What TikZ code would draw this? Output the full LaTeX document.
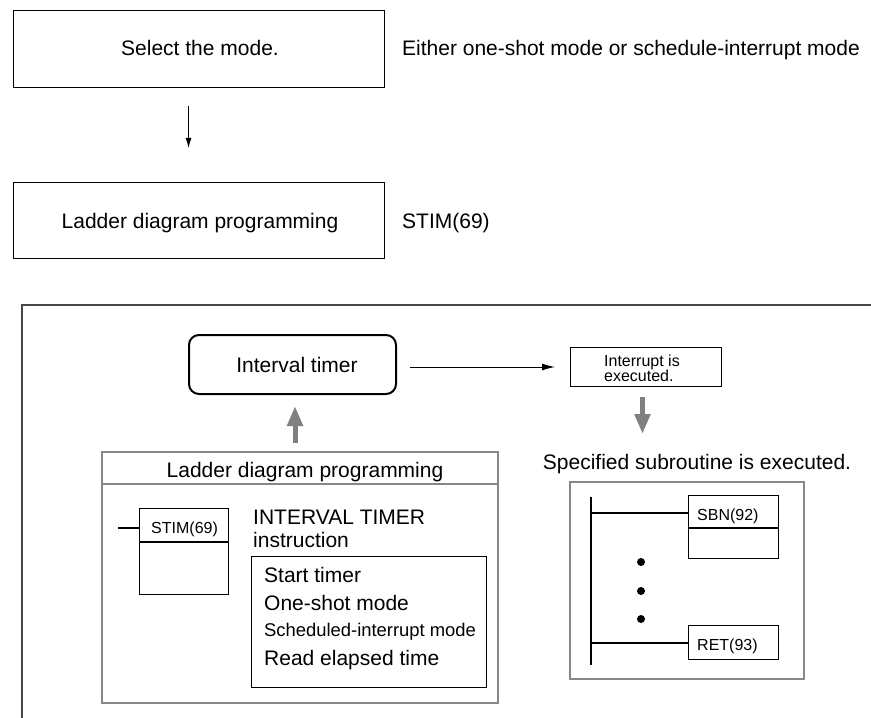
\documentclass[tikz,border=0pt]{standalone}
\usepackage{fontspec}
\setmainfont{Liberation Sans}
\usetikzlibrary{arrows.meta}
\definecolor{framegray}{RGB}{70,70,70}
\definecolor{boxgray}{RGB}{135,135,135}
\definecolor{arrowgray}{RGB}{128,128,128}
\tikzset{
  big/.style={font=\fontsize{21bp}{23bp}\selectfont, inner sep=0pt},
  mid/.style={font=\fontsize{18.4bp}{20bp}\selectfont, inner sep=0pt},
  small/.style={font=\fontsize{16bp}{15bp}\selectfont, inner sep=0pt},
  plainbox/.style={draw, line width=1.1bp, anchor=north west, inner sep=0pt},
  graybox/.style={draw=boxgray, line width=2bp, anchor=north west, inner sep=0pt},
  thinarrow/.style={line width=1bp, -{Latex[length=10bp,width=6bp]}},
  grayarrow/.style={draw=arrowgray, line width=5bp, -{Triangle[length=20bp,width=15bp]}, color=arrowgray},
  rung/.style={line width=1.1bp},
}
\begin{document}
\begin{tikzpicture}[x=1bp, y=-1bp]
\useasboundingbox (0,0) rectangle (871,718);

% top flow
\node[plainbox, minimum width=371bp, minimum height=77bp] (box1) at (13,10) {};
\node[big, anchor=base] (t1) at (200,56) {Select the mode.};
\node[big, anchor=base west] (t1r) at (402,56) {Either one-shot mode or schedule-interrupt mode};
\node[plainbox, minimum width=371bp, minimum height=76bp] (box2) at (13,182) {};
\node[big, anchor=base] (t2) at (200,228) {Ladder diagram programming};
\node[big, anchor=base west] (t2r) at (402,228) {STIM(69)};
\draw[thinarrow, shorten <=18bp, shorten >=34bp] ([xshift=-10.5bp]box1.south) -- ([xshift=-10.5bp]box2.north);

% frame
\draw[framegray, line width=1.5bp] (22,718) -- (22,305) -- (871,305);

% interval timer
\node[draw, line width=2bp, rounded corners=10bp, anchor=north west, minimum width=207bp, minimum height=59bp, inner sep=0pt] (timer) at (188,334) {};
\node[big, anchor=base] (timertxt) at (297,372.5) {Interval timer};

% interrupt box
\node[plainbox, line width=1bp, minimum width=151bp, minimum height=39bp] (intr) at (570,347) {};
\node[small, anchor=base west] (intr1) at (604,366.5) {Interrupt is};
\node[small, anchor=base west] (intr2) at (604,381.5) {executed.};
\draw[thinarrow, -{Latex[length=13bp,width=7bp]}, shorten <=13bp, shorten >=15bp] (intr.west -| timer.east) -- (intr.west);

% gray arrows
\node[big, anchor=base] (spec) at (697,469.5) {Specified subroutine is executed.};
\draw[grayarrow, shorten <=10bp] ([xshift=-3.5bp]intr.south) -- ++(0,47);

% ladder diagram box
\node[graybox, minimum width=396bp, minimum height=251bp] (ladder) at (101,451) {};
\draw[boxgray, line width=2bp] (101,484) -- (497,484);
\node[big, anchor=base] (ladtxt) at (305,477.5) {Ladder diagram programming};
\draw[grayarrow, shorten <=8bp, shorten >=11bp] ([xshift=-5bp]ladder.north) -- ([xshift=-5bp]ladder.north |- timer.south);

% STIM box
\node[plainbox, minimum width=89bp, minimum height=86bp] (stim) at (139,508) {};
\draw[line width=1.1bp] (139,542) -- (228,542);
\node[small, anchor=base west] (stimtxt) at (151,533.7) {STIM(69)};
\coordinate (stub) at (118,528);
\draw[rung] (stub) -- (stub -| stim.west);

\node[big, anchor=base west] (it1) at (253,524.5) {INTERVAL TIMER};
\node[big, anchor=base west] (it2) at (253,547.5) {instruction};

% inner box
\node[plainbox, minimum width=235bp, minimum height=131bp] (inner) at (251,556) {};
\node[big, anchor=base west] (l1) at (264,582.5) {Start timer};
\node[big, anchor=base west] (l2) at (264,610.5) {One-shot mode};
\node[mid, anchor=base west] (l3) at (264,636) {Scheduled-interrupt mode};
\node[big, anchor=base west] (l4) at (264,665.5) {Read elapsed time};

% subroutine box
\node[graybox, minimum width=234bp, minimum height=197bp] (sub) at (569,481) {};
\coordinate (railtop) at (591,497);
\coordinate (railbot) at (591,665);
\draw[rung] (railtop) -- (railbot);
\node[plainbox, minimum width=90bp, minimum height=63bp] (sbn) at (688,495) {};
\draw[line width=1.1bp] (688,528) -- (778,528);
\node[small, anchor=base west] (sbntxt) at (697,520.7) {SBN(92)};
\node[plainbox, minimum width=90bp, minimum height=34bp] (ret) at (688,625) {};
\node[small, anchor=base west] (rettxt) at (697,650.7) {RET(93)};
\coordinate (r1) at (591,513);
\coordinate (r2) at (590,643);
\draw[rung] (r1) -- (r1 -| sbn.west);
\draw[rung] (r2) -- (r2 -| ret.west);
\fill (641,562) circle (4bp);
\fill (641,591) circle (4bp);
\fill (641,619) circle (4bp);
\end{tikzpicture}
\end{document}
